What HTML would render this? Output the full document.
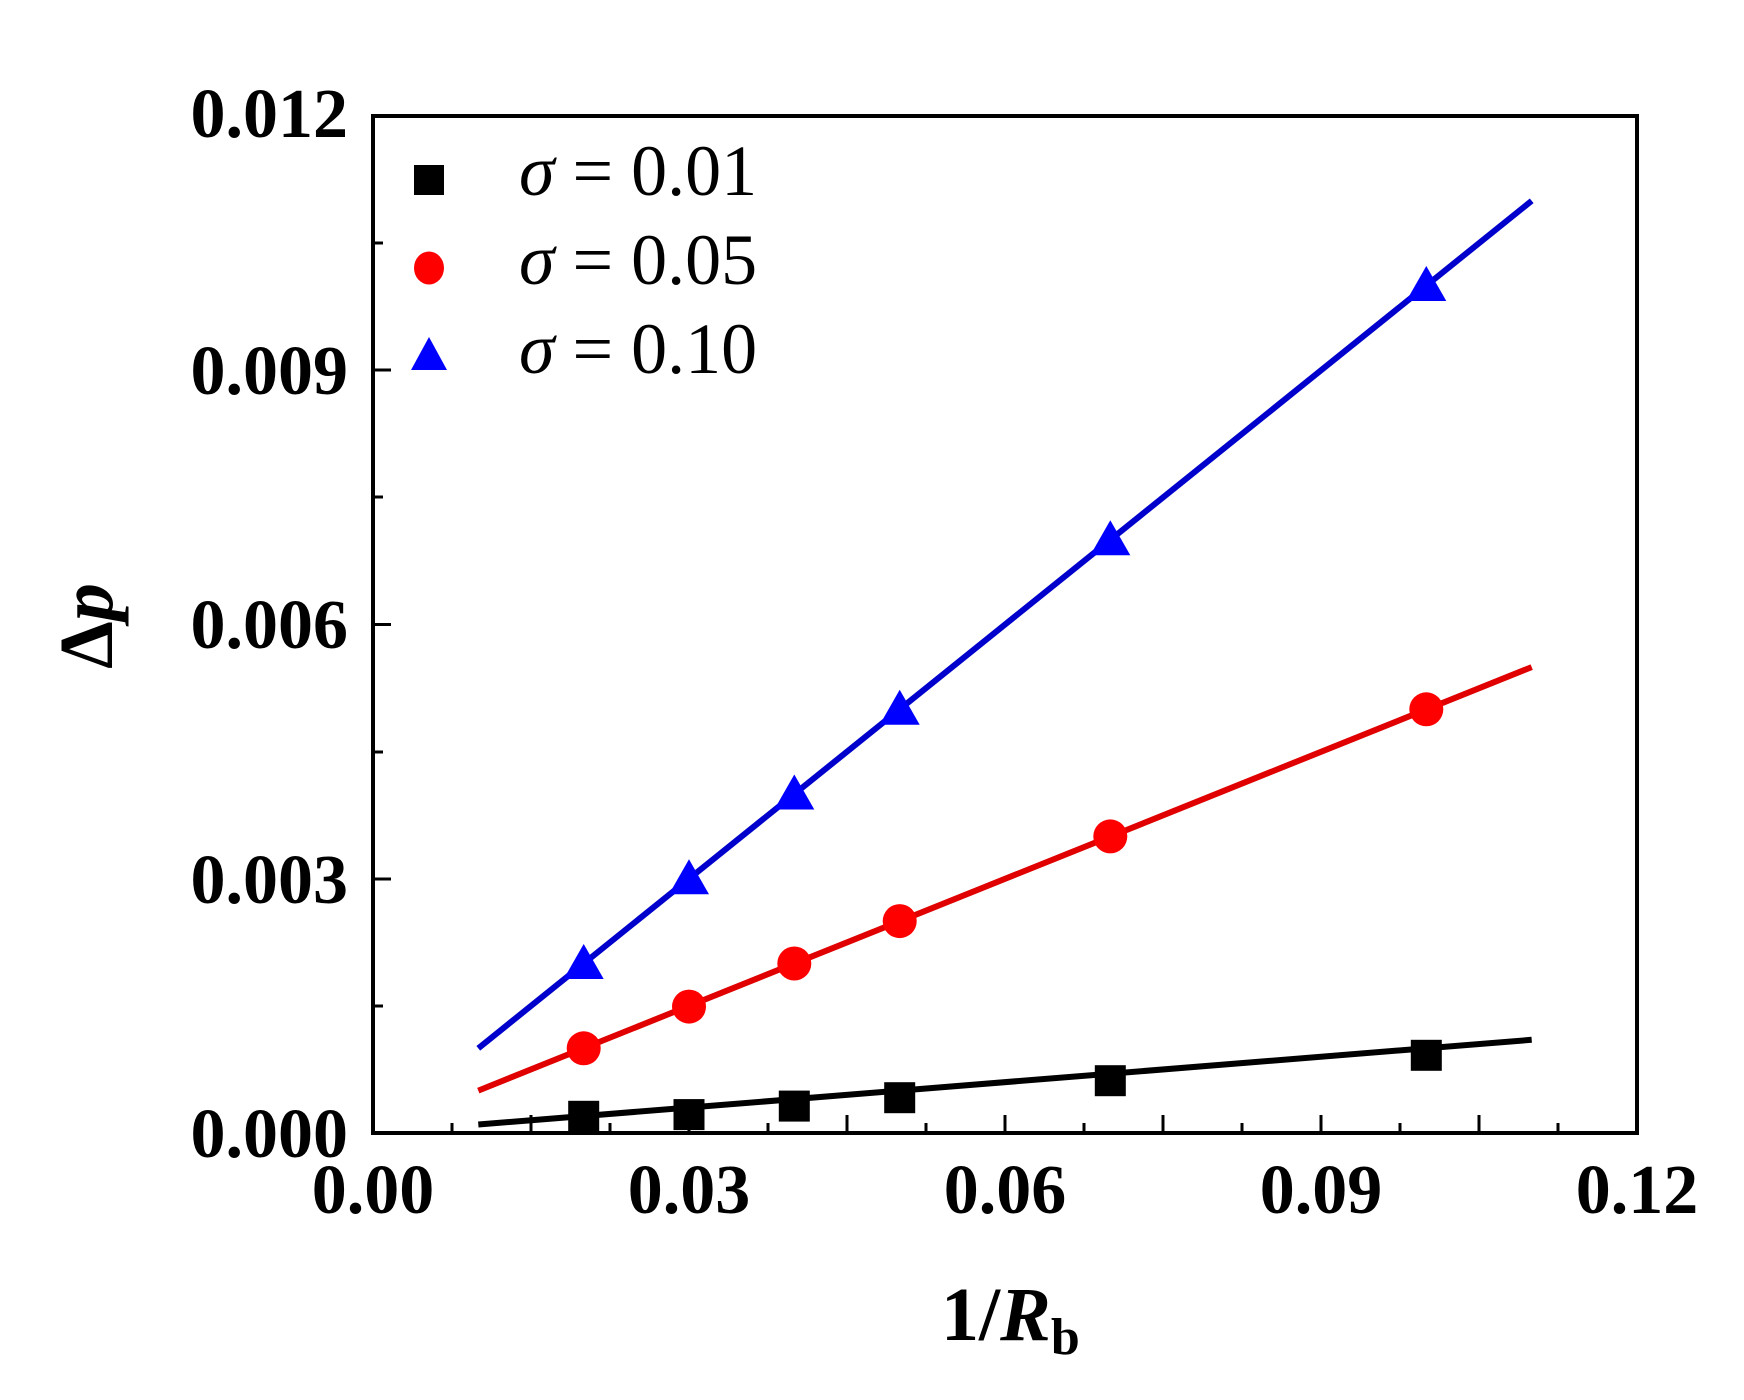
<!DOCTYPE html>
<html><head><meta charset="utf-8"><style>html,body{margin:0;padding:0;background:#fff;}svg{display:block;}</style></head>
<body>
<svg width="1744" height="1400" viewBox="0 0 1744 1400" xmlns="http://www.w3.org/2000/svg" font-family="Liberation Serif, serif">
<rect width="1744" height="1400" fill="#fff"/>
<g stroke="#000" stroke-width="3">
<line x1="531" y1="1133" x2="531" y2="1115"/><line x1="689" y1="1133" x2="689" y2="1115"/><line x1="847" y1="1133" x2="847" y2="1115"/><line x1="1005" y1="1133" x2="1005" y2="1115"/><line x1="1163" y1="1133" x2="1163" y2="1115"/><line x1="1321" y1="1133" x2="1321" y2="1115"/><line x1="1479" y1="1133" x2="1479" y2="1115"/>
<line x1="452" y1="1133" x2="452" y2="1123"/><line x1="610" y1="1133" x2="610" y2="1123"/><line x1="768" y1="1133" x2="768" y2="1123"/><line x1="926" y1="1133" x2="926" y2="1123"/><line x1="1084" y1="1133" x2="1084" y2="1123"/><line x1="1242" y1="1133" x2="1242" y2="1123"/><line x1="1400" y1="1133" x2="1400" y2="1123"/><line x1="1558" y1="1133" x2="1558" y2="1123"/>
<line x1="373" y1="879" x2="391" y2="879"/><line x1="373" y1="624.5" x2="391" y2="624.5"/><line x1="373" y1="370" x2="391" y2="370"/>
<line x1="373" y1="1006" x2="383" y2="1006"/><line x1="373" y1="752" x2="383" y2="752"/><line x1="373" y1="497" x2="383" y2="497"/><line x1="373" y1="243" x2="383" y2="243"/>
</g>
<rect x="373" y="116" width="1264" height="1017" fill="none" stroke="#000" stroke-width="4"/>
<g stroke-width="6" fill="none">
<line x1="478.3" y1="1124.5" x2="1531.7" y2="1039.8" stroke="#000"/>
<line x1="478.3" y1="1090.6" x2="1531.7" y2="667.1" stroke="#e00000"/>
<line x1="478.3" y1="1048.3" x2="1531.7" y2="200.8" stroke="#0000cc"/>
</g>
<g fill="#000">
<rect x="568.2" y="1100.8" width="31" height="31"/><rect x="673.5" y="1099.1" width="31" height="31"/><rect x="778.8" y="1090.6" width="31" height="31"/><rect x="884.2" y="1082.2" width="31" height="31"/><rect x="1094.8" y="1065.2" width="31" height="31"/><rect x="1410.8" y="1039.8" width="31" height="31"/>
</g>
<g fill="#ff0000">
<circle cx="583.7" cy="1048.3" r="17"/><circle cx="689" cy="1006.6" r="17"/><circle cx="794.3" cy="963.5" r="17"/><circle cx="899.7" cy="921.1" r="17"/><circle cx="1110.3" cy="836.4" r="17"/><circle cx="1426.3" cy="709.3" r="17"/>
</g>
<g fill="#0000ff">
<polygon points="583.7,944 563.7,979 603.7,979"/><polygon points="689,859.3 669,894.3 709,894.3"/><polygon points="794.3,774.5 774.3,809.5 814.3,809.5"/><polygon points="899.7,689.8 879.7,724.8 919.7,724.8"/><polygon points="1110.3,520.3 1090.3,555.3 1130.3,555.3"/><polygon points="1426.3,266 1406.3,301 1446.3,301"/>
</g>
<rect x="414" y="165" width="30" height="30" fill="#000"/>
<ellipse cx="429" cy="268" rx="15" ry="16.5" fill="#ff0000"/>
<polygon points="429,337 411,370 447,370" fill="#0000ff"/>
<g font-size="72" fill="#000">
<text x="519" y="195"><tspan font-style="italic">σ</tspan> = 0.01</text>
<text x="519" y="284"><tspan font-style="italic">σ</tspan> = 0.05</text>
<text x="519" y="373"><tspan font-style="italic">σ</tspan> = 0.10</text>
</g>
<g font-size="70" font-weight="bold" fill="#000" text-anchor="end">
<text x="348" y="137">0.012</text>
<text x="348" y="394">0.009</text>
<text x="348" y="648">0.006</text>
<text x="348" y="903">0.003</text>
<text x="348" y="1157">0.000</text>
</g>
<g font-size="70" font-weight="bold" fill="#000" text-anchor="middle">
<text x="373" y="1213">0.00</text>
<text x="689" y="1213">0.03</text>
<text x="1005" y="1213">0.06</text>
<text x="1321" y="1213">0.09</text>
<text x="1637" y="1213">0.12</text>
</g>
<text x="941" y="1340" font-size="76" font-weight="bold">1/<tspan font-style="italic">R</tspan><tspan font-size="52" dy="14">b</tspan></text>
<text transform="translate(112,626) rotate(-90)" text-anchor="middle" font-size="76" font-weight="bold">Δ<tspan font-style="italic">p</tspan></text>
</svg>
</body></html>
